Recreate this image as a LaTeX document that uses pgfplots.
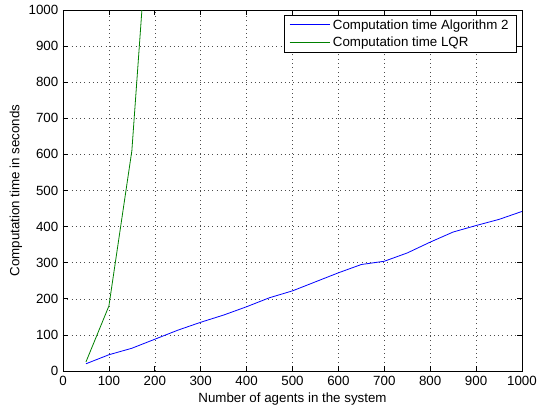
\documentclass[border=0pt]{standalone}
\usepackage{pgfplots}
\pgfplotsset{compat=1.18}
\usepackage{fontspec}
\setmainfont{Liberation Sans}
\definecolor{mgreen}{rgb}{0,0.5,0}
\definecolor{mblue}{rgb}{0,0,1}
\begin{document}
\fontsize{10}{12}\selectfont
\begin{tikzpicture}
\begin{axis}[
  scale only axis,
  width=344.25pt, height=270.75pt,
  at={(0,0)}, anchor=south west,
  xmin=0, xmax=1000, ymin=0, ymax=1000,
  xtick={0,100,...,1000}, ytick={0,100,...,1000},
  tick align=inside,
  major tick length=3.5pt,
  xtick pos=both, ytick pos=both,
  grid=major,
  major grid style={black!70, line width=0.4pt, dash pattern=on 0.6pt off 2.6pt},
  axis line style={black, line width=0.6pt},
  tick style={black, line width=0.5pt},
  /pgf/number format/assume math mode=true,
  /pgf/number format/1000 sep={},
  tick label style={font=\fontsize{10}{12}\selectfont},
  xlabel={Number of agents in the system},
  ylabel={Computation time in seconds},
  label style={font=\fontsize{10}{12}\selectfont},
  xlabel style={yshift=1.3pt},
  ylabel style={yshift=-2pt},
  legend style={at={(rel axis cs:0.9885,0.986)}, anchor=north east,
    draw=black, line width=0.5pt, font=\fontsize{10}{12}\selectfont,
    inner xsep=3.9pt, inner ysep=1pt, row sep=0.3pt, cells={anchor=west}},
  legend image code/.code={\draw[#1, line width=0.75pt] (0cm,0.2pt) -- (30pt,0.2pt);},
  clip=true,
]
\addplot[color=mblue, line width=0.6pt] coordinates {
(50,20) (100,45) (150,63) (200,88) (250,113) (300,135) (350,155) (400,178)
(450,203) (500,222) (550,247) (600,272) (650,295) (700,304) (750,327)
(800,357) (850,385) (900,403) (950,420) (1000,442)};
\addlegendentry{Computation time Algorithm 2}
\addplot[color=mgreen, line width=0.6pt] coordinates {
(50,25) (100,180) (150,610) (200,1500)};
\addlegendentry{Computation time LQR}
\end{axis}
\pgfresetboundingbox
\useasboundingbox (-47.25pt,-27.75pt) rectangle (355.5pt,278.25pt);
\end{tikzpicture}
\end{document}
